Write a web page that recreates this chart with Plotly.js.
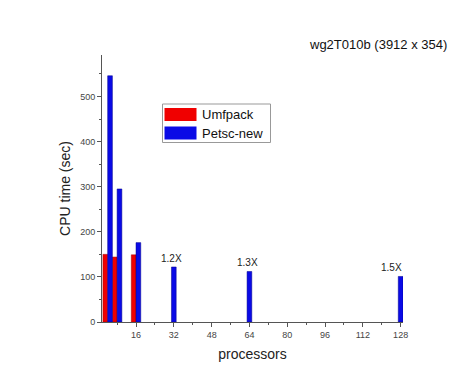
<!DOCTYPE html>
<html>
<head>
<meta charset="utf-8">
<script src="https://cdn.plot.ly/plotly-3.0.1.min.js"></script>
<style>html,body{margin:0;padding:0;background:#fff;}#chart{width:465px;height:380px;}</style>
</head>
<body>
<div id="chart"></div>
<script>
// Data
var processors = [4, 8, 16, 32, 64, 128];
var umfpackProcs = [4, 8, 16];
var umfpackTime = [150, 144, 149];
var petscTime = [546, 295, 176, 122, 112, 101];
var speedupProcs = [32, 64, 128];
var speedupTime = [122, 112, 101];
var speedupLabels = ['1.2X', '1.3X', '1.5X'];
var seriesNames = ['Umfpack', 'Petsc-new'];
var seriesColors = ['#f00000', '#0a0ae6'];
var xTicks = [16, 32, 48, 64, 80, 96, 112, 128];
var yTicks = [0, 100, 200, 300, 400, 500];

var traces = [
  {type: 'bar', name: seriesNames[0], x: umfpackProcs, y: umfpackTime,
   width: 2, offset: -2, marker: {color: seriesColors[0], line: {color: '#a00000', width: 0.5}}, showlegend: false},
  {type: 'bar', name: seriesNames[1], x: processors, y: petscTime,
   width: 2, offset: processors.map(function(p){ return p <= 16 ? 0 : -1; }),
   marker: {color: seriesColors[1], line: {color: '#00008a', width: 0.5}}, showlegend: false}
];

var annotations = speedupProcs.map(function(p, i){
  return {x: p, y: speedupTime[i], text: speedupLabels[i], showarrow: false,
          xref: 'x', yref: 'y', xanchor: 'center', yanchor: 'bottom', yshift: 1,
          xshift: (p === 128 ? -9 : -2),
          font: {family: 'Liberation Sans, Arial, sans-serif', size: 10, color: '#222'}};
});
// custom legend text
seriesNames.forEach(function(n, i){
  annotations.push({x: 200, y: 114.5 + i * 18.5, xref: 'paper', yref: 'paper', text: n, showarrow: false,
    xanchor: 'left', yanchor: 'middle',
    font: {family: 'Liberation Sans, Arial, sans-serif', size: 13, color: '#111'}});
});
annotations.push({x: 378, y: 45, xref: 'paper', yref: 'paper', text: 'wg2T010b (3912 x 354)', showarrow: false,
  xanchor: 'center', yanchor: 'middle',
  font: {family: 'Liberation Sans, Arial, sans-serif', size: 13, color: '#111'}});

var W = 465, H = 380;
var M = {l: 102, r: 62, t: 55, b: 58};
var pw = W - M.l - M.r, ph = H - M.t - M.b;
function px(xp){ return (xp - M.l) / pw; }
function py(yp){ return 1 - (yp - M.t) / ph; }
annotations.forEach(function(a){
  if (a.xref === 'paper') { a.x = px(a.x); a.y = py(a.y); }
});

var shapes = [
  {type: 'rect', xref: 'paper', yref: 'paper', x0: px(162.5), x1: px(270.5), y0: py(104), y1: py(142.5),
   line: {color: '#999', width: 1}, fillcolor: 'rgba(0,0,0,0)'}
];
seriesColors.forEach(function(c, i){
  shapes.push({type: 'rect', xref: 'paper', yref: 'paper', x0: px(164.5), x1: px(196.5),
    y0: py(108 + i * 18.5), y1: py(121 + i * 18.5), fillcolor: c, line: {color: c, width: 0}});
});

var layout = {
  width: W, height: H,
  margin: M,
  paper_bgcolor: '#fff', plot_bgcolor: '#fff',
  showlegend: false,
  barmode: 'overlay',
  font: {family: 'Liberation Sans, Arial, sans-serif', color: '#333'},
  xaxis: {range: [1.6, 129], tickvals: xTicks, ticks: 'outside', ticklen: 4, tickcolor: '#555',
    showline: true, linecolor: '#555', linewidth: 1, showgrid: false, zeroline: false,
    tickfont: {size: 9, color: '#444'},
    minor: {dtick: 8, tick0: 0, ticks: 'outside', ticklen: 2, tickcolor: '#555'},
    title: {text: 'processors', font: {size: 14, color: '#222'}, standoff: 10}},
  yaxis: {range: [0, 592], tickvals: yTicks, ticks: 'outside', ticklen: 4, tickcolor: '#555',
    showline: true, linecolor: '#555', linewidth: 1, showgrid: false, zeroline: false,
    tickfont: {size: 9, color: '#444'},
    minor: {dtick: 50, tick0: 0, ticks: 'outside', ticklen: 2, tickcolor: '#555'},
    title: {text: 'CPU time (sec)', font: {size: 14, color: '#222'}, standoff: 6}},
  annotations: annotations,
  shapes: shapes
};

Plotly.newPlot('chart', traces, layout, {displayModeBar: false, staticPlot: true});
</script>
</body>
</html>
